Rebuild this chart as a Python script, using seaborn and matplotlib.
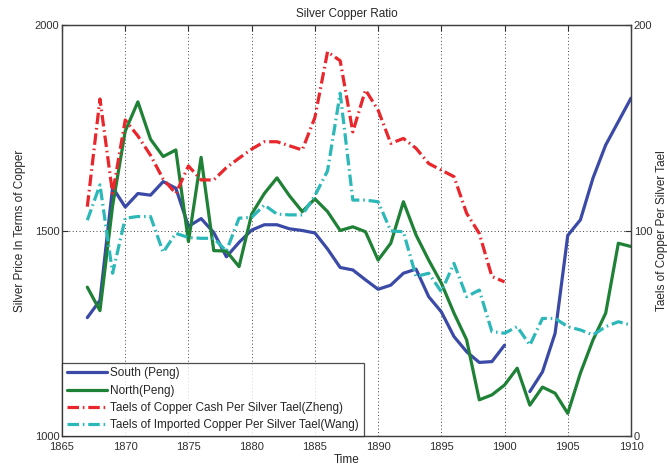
import numpy as np
import pandas as pd
import matplotlib
matplotlib.use("Agg")
import matplotlib.pyplot as plt
import seaborn as sns
from matplotlib.lines import Line2D

# ---- data -------------------------------------------------------------
years = list(range(1867, 1911))

# Silver price in terms of copper (left axis)
south_peng = [1288, 1330, 1605, 1557, 1590, 1586, 1619, 1603, 1510, 1529,
              1495, 1436, 1471, 1501, 1514, 1514, 1504, 1500, 1494, 1455,
              1410, 1404, 1380, 1357, 1367, 1396, 1406, 1339, 1302, 1242,
              1205, 1179, 1181, 1221, np.nan, 1108, 1156, 1250, 1488, 1526,
              1628, 1708, 1765, 1822]
north_peng = [1362, 1305, 1560, 1742, 1813, 1722, 1680, 1696, 1473, 1678,
              1451, 1450, 1412, 1540, 1590, 1628, 1584, 1546, 1577, 1546,
              1500, 1509, 1497, 1428, 1469, 1570, 1489, 1428, 1372, 1299,
              1234, 1088, 1100, 1124, 1165, 1075, 1119, 1104, 1055, 1153,
              1234, 1299, 1469, 1461]

# Taels of copper per silver tael (right axis)
zheng_years = list(range(1867, 1901))
zheng_cash = [111.6, 164.0, 118.0, 153.8, 146.0, 136.6, 125.0, 118.0, 131.4,
              124.6, 124.6, 130.6, 135.2, 139.6, 143.2, 143.2, 141.2, 139.2,
              155.0, 187.0, 182.6, 148.0, 168.4, 158.6, 142.4, 144.8, 140.0,
              132.6, 129.4, 126.2, 108.4, 98.6, 77.6, 75.0]
wang_imported = [105.0, 122.2, 79.2, 106.0, 106.8, 106.8, 89.4, 98.6, 96.6,
                 96.2, 96.2, 90.0, 106.0, 106.4, 112.4, 108.0, 107.6, 107.6,
                 117.0, 129.0, 166.8, 114.8, 114.8, 114.0, 99.8, 99.4, 77.6,
                 79.2, 70.2, 84.0, 67.8, 71.0, 50.8, 50.0, 53.2, 44.2, 57.2,
                 57.2, 53.2, 51.6, 49.2, 53.2, 55.6, 54.0]

labels = ["South (Peng)", "North(Peng)",
          "Taels of Copper Cash Per Silver Tael(Zheng)",
          "Taels of Imported Copper Per Silver Tael(Wang)"]

# ---- frames -----------------------------------------------------------
south = pd.DataFrame({"year": years, "value": south_peng})
south["seg"] = south["value"].isna().cumsum()   # break the line at the gap
south = south.dropna()
north = pd.DataFrame({"year": years, "value": north_peng})
zheng = pd.DataFrame({"year": zheng_years, "value": zheng_cash})
wang = pd.DataFrame({"year": years, "value": wang_imported})

# ---- style ------------------------------------------------------------
sns.set_style("white")
plt.rcParams["font.family"] = ["Liberation Sans", "DejaVu Sans"]
plt.rcParams["font.size"] = 8
plt.rcParams["xtick.direction"] = "in"
plt.rcParams["ytick.direction"] = "in"

c_blue = "#3a4aa6"
c_green = "#1e8136"
c_red = "#e8262b"
c_cyan = "#2cb8b8"
lw = 2.3
dashdot = (0, (3.6, 1.2, 0.5, 1.2))

fig = plt.figure(figsize=(6.67, 4.72), dpi=100)
ax = fig.add_axes([0.093, 0.0763, 0.853, 0.8707])
ax2 = ax.twinx()

sns.lineplot(data=south, x="year", y="value", units="seg", estimator=None,
             color=c_blue, lw=lw, ax=ax)
sns.lineplot(data=north, x="year", y="value", color=c_green, lw=lw, ax=ax)
sns.lineplot(data=zheng, x="year", y="value", color=c_red, lw=lw,
             linestyle=dashdot, ax=ax2)
sns.lineplot(data=wang, x="year", y="value", color=c_cyan, lw=lw,
             linestyle=dashdot, ax=ax2)

# ---- axes -------------------------------------------------------------
ax.set_xlim(1865, 1910)
ax.set_ylim(1000, 2000)
ax2.set_ylim(0, 200)
ax.set_xticks(range(1865, 1911, 5))
ax.set_yticks([1000, 1500, 2000])
ax2.set_yticks([0, 100, 200])

for a in (ax, ax2):
    for sp in a.spines.values():
        sp.set_color("#404040")
        sp.set_linewidth(0.9)
    a.tick_params(length=4, width=0.8, colors="#303030", labelsize=8, pad=2)
ax.tick_params(axis="x", top=True, pad=4)

ax.xaxis.grid(True, linestyle=(0, (1, 2.5)), color="#404040", lw=0.7)
ax.yaxis.grid(True, linestyle=(0, (1, 2.5)), color="#404040", lw=0.7)
ax.set_axisbelow(True)

ax.set_title("Silver Copper Ratio", fontsize=8.5, pad=6)
ax.set_xlabel("Time", fontsize=8.5, labelpad=2)
ax.set_ylabel("Silver Price In Terms of Copper", fontsize=8.5, labelpad=6)
ax2.set_ylabel("Taels of Copper Per Silver Tael", fontsize=8.5, labelpad=3,
               rotation=90)

# ---- legend -----------------------------------------------------------
handles = [Line2D([], [], color=c_blue, lw=lw),
           Line2D([], [], color=c_green, lw=lw),
           Line2D([], [], color=c_red, lw=lw, linestyle=dashdot),
           Line2D([], [], color=c_cyan, lw=lw, linestyle=dashdot)]
leg = ax2.legend(handles, labels, loc="lower left", bbox_to_anchor=(0, 0),
                 fontsize=8.5, frameon=True, fancybox=False, borderaxespad=0,
                 handlelength=3.4, handletextpad=0.3, labelspacing=0.45,
                 borderpad=0.4)
leg.get_frame().set_edgecolor("#202020")
leg.get_frame().set_linewidth(0.9)

fig.savefig("out.png", dpi=100)
